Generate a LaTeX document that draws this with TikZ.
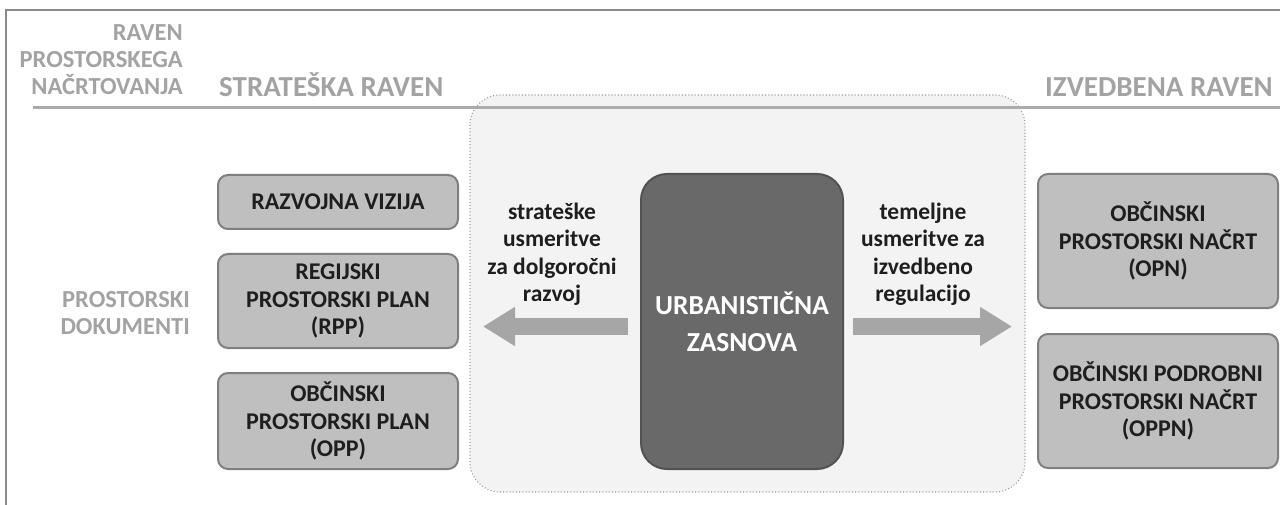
\documentclass[tikz,border=0pt]{standalone}
\usepackage{fontspec}
\setmainfont{Carlito}
\usetikzlibrary{arrows.meta}
\definecolor{headgray}{HTML}{A3A3A3}
\definecolor{linegray}{HTML}{ABABAB}
\definecolor{framegray}{HTML}{8A8A8A}
\definecolor{lightfill}{HTML}{BFBFBF}
\definecolor{lightdraw}{HTML}{7F7F7F}
\definecolor{darkfill}{HTML}{696969}
\definecolor{darkdraw}{HTML}{525252}
\definecolor{regionfill}{HTML}{F3F3F3}
\definecolor{regiondraw}{HTML}{9A9A9A}
\definecolor{arrowgray}{HTML}{A6A6A6}
\definecolor{textblack}{HTML}{1E1E1E}
\begin{document}
\begin{tikzpicture}[x=1pt,y=-1pt,
  headtext/.style={text=headgray, font=\bfseries\fontsize{29}{35}\selectfont, inner sep=0pt},
  sidelabel/.style={text=headgray, font=\bfseries\fontsize{24.5}{28}\selectfont, inner sep=0pt},
  lbox/.style={draw=lightdraw, fill=lightfill, line width=2pt, rounded corners=10pt,
    text=textblack, font=\bfseries\fontsize{24}{27.5}\selectfont, align=center,
    inner sep=0pt, anchor=north west, minimum width=240pt},
  dbox/.style={draw=darkdraw, fill=darkfill, line width=2pt, rounded corners=26pt,
    text=white, font=\bfseries\fontsize{27.5}{37}\selectfont, align=center,
    inner sep=0pt, anchor=north west, minimum width=202pt, minimum height=295pt},
  midtext/.style={text=textblack, font=\bfseries\fontsize{23.5}{27}\selectfont, align=center, inner sep=0pt},
  bigarrow/.style={draw=arrowgray, line width=17pt, -{Triangle[length=32pt,width=37pt]}}
]
\useasboundingbox (0,0) rectangle (1280,505);
\fill[white] (0,0) rectangle (1280,505);
% frame
\draw[framegray, line width=1.5pt] (1280,10) -- (6,10) -- (6,505);
% dotted region
\draw[draw=regiondraw, fill=regionfill, line width=1.1pt, dash pattern=on 1pt off 2.2pt,
  rounded corners=30pt] (470,95) rectangle (1025,492);
% heading line
\draw[linegray, line width=3pt] (33,108) -- (1280,108);
% left labels
\node[sidelabel, anchor=base east] (r1) at (183,41) {RAVEN};
\node[sidelabel, anchor=base east] (r2) at (183,68) {PROSTORSKEGA};
\node[sidelabel, anchor=base east] (r3) at (183,95) {NAČRTOVANJA};
\node[headtext, anchor=base west] (strat) at (219,97) {STRATEŠKA RAVEN};
\node[headtext, anchor=base east] (izv) at (1273,97) {IZVEDBENA RAVEN};
\node[sidelabel, anchor=base east] (pd1) at (190,307) {PROSTORSKI};
\node[sidelabel, anchor=base east] (pd2) at (190,334) {DOKUMENTI};
% left boxes
\node[lbox, minimum height=54pt] (rv) at (217,174) {RAZVOJNA VIZIJA};
\node[lbox, minimum height=94pt] (rpp) at (217,253) {REGIJSKI\\PROSTORSKI PLAN\\(RPP)};
\node[lbox, minimum height=96pt] (opp) at (217,372) {OBČINSKI\\PROSTORSKI PLAN\\(OPP)};
% right boxes
\node[lbox, minimum height=134pt] (opn) at (1037,173) {OBČINSKI\\PROSTORSKI NAČRT\\(OPN)};
\node[lbox, minimum height=134pt] (oppn) at (1037,333) {OBČINSKI PODROBNI\\PROSTORSKI NAČRT\\(OPPN)};
% central box
\node[dbox] (uz) at (640,173) {URBANISTIČNA\\ZASNOVA};
% middle texts
\node[midtext, anchor=base] (st1) at (552,220) {strateške};
\node[midtext, anchor=base] (st2) at (552,247) {usmeritve};
\node[midtext, anchor=base] (st3) at (552,274) {za dolgoročni};
\node[midtext, anchor=base] (st4) at (552,301) {razvoj};
\node[midtext, anchor=base] (te1) at (923,220) {temeljne};
\node[midtext, anchor=base] (te2) at (923,247) {usmeritve za};
\node[midtext, anchor=base] (te3) at (923,274) {izvedbeno};
\node[midtext, anchor=base] (te4) at (923,301) {regulacijo};
% arrows
\coordinate (la) at (628,326.5);
\coordinate (lt) at (483,326.5);
\coordinate (ra) at (853,326.5);
\coordinate (rt) at (1012,326.5);
\draw[bigarrow] (la) -- (lt);
\draw[bigarrow] (ra) -- (rt);
\end{tikzpicture}
\end{document}
